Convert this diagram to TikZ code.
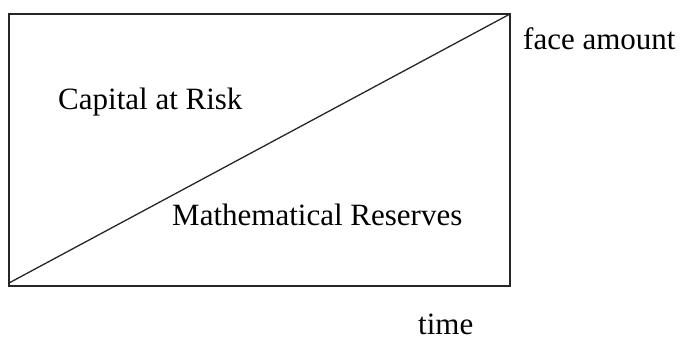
\documentclass[tikz,border=0pt]{standalone}
\usepackage{fontspec}
\setmainfont{Liberation Serif}
\begin{document}
\begin{tikzpicture}[x=1pt,y=-1pt,
  lbl/.style={anchor=base west,inner sep=0pt,font=\fontsize{31}{36}\selectfont},
  edge/.style={line width=1.6pt,black!85}]
\useasboundingbox (0,0) rectangle (684,342);
\coordinate (bl) at (9,286);
\coordinate (tr) at (510,14);
\coordinate (dstart) at (9,283);
\draw[edge] (bl) rectangle (tr);
\draw[line width=1.3pt,black!85] (dstart) -- (tr);
\node[lbl] (car) at (58,110) {Capital at Risk};
\node[lbl] (mr) at (172,225) {Mathematical Reserves};
\node[lbl] (fa) at (523,50) {face amount};
\node[lbl] (tm) at (418,334) {time};
\end{tikzpicture}
\end{document}
